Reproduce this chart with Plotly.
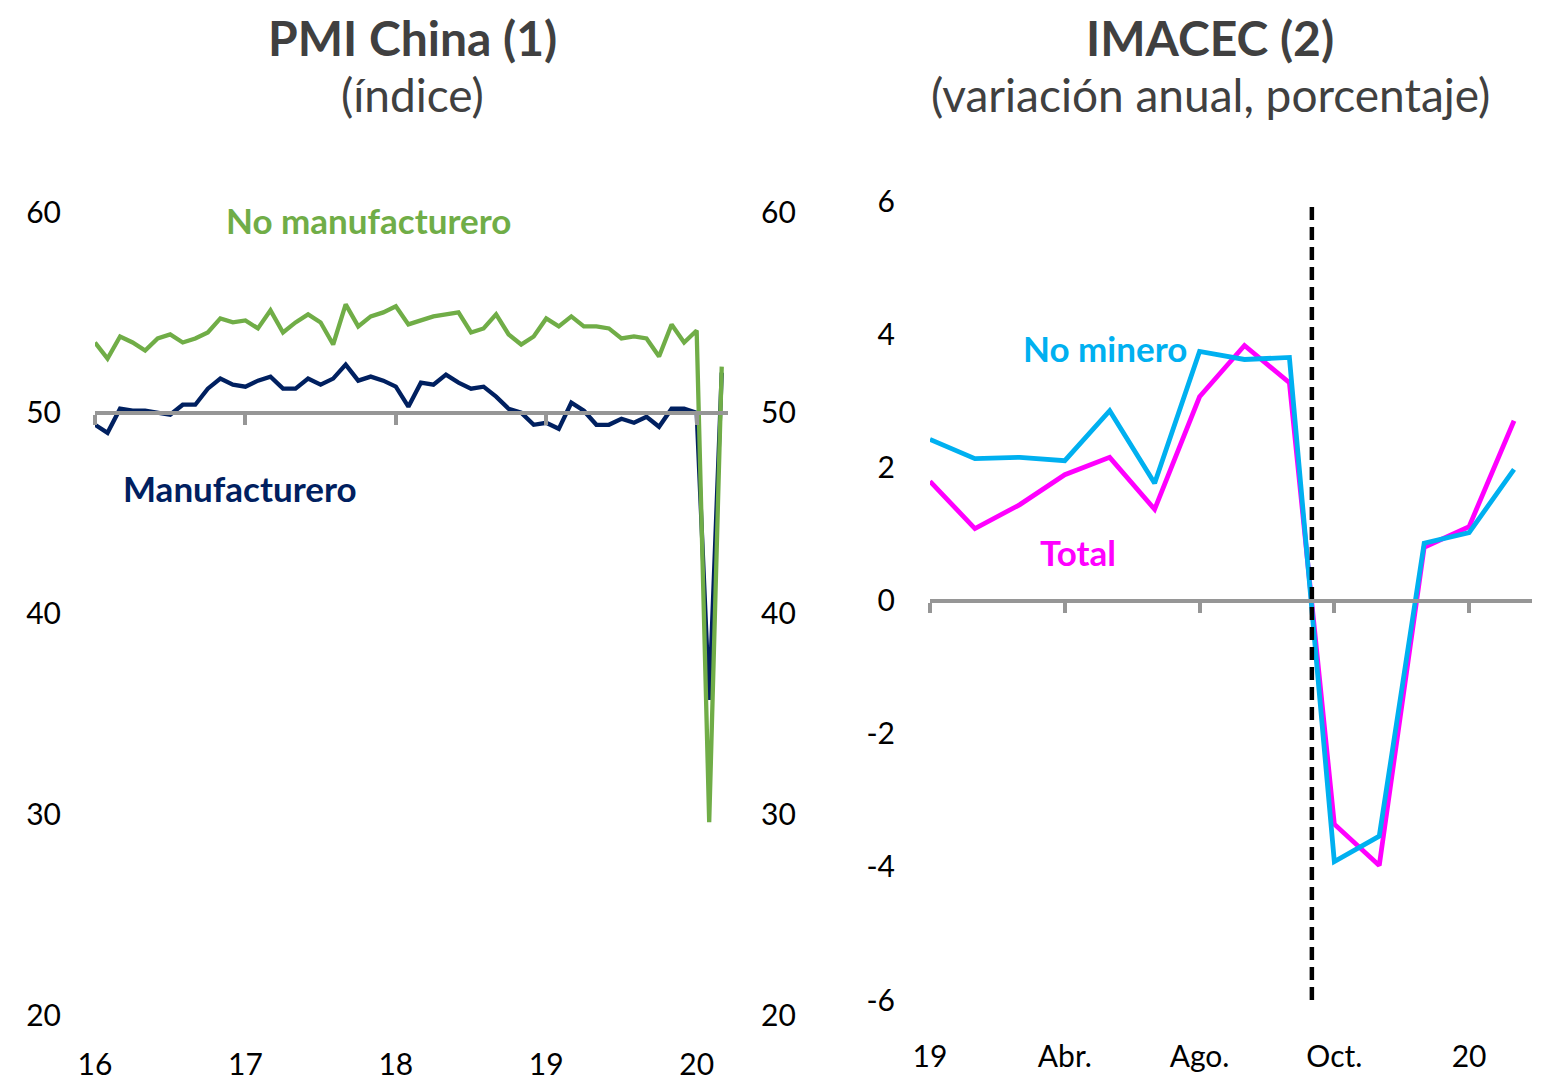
import plotly.graph_objects as go

# ---------------- Data ----------------
# PMI China, monthly Jan-2016 .. Mar-2020 (index)
pmi_months = list(range(51))  # month index from Jan-2016
pmi_manuf = [49.4, 49.0, 50.2, 50.1, 50.1, 50.0, 49.9, 50.4, 50.4, 51.2, 51.7, 51.4,
             51.3, 51.6, 51.8, 51.2, 51.2, 51.7, 51.4, 51.7, 52.4, 51.6, 51.8, 51.6,
             51.3, 50.3, 51.5, 51.4, 51.9, 51.5, 51.2, 51.3, 50.8, 50.2, 50.0, 49.4,
             49.5, 49.2, 50.5, 50.1, 49.4, 49.4, 49.7, 49.5, 49.8, 49.3, 50.2, 50.2,
             50.0, 35.7, 52.0]
pmi_nonmanuf = [53.5, 52.7, 53.8, 53.5, 53.1, 53.7, 53.9, 53.5, 53.7, 54.0, 54.7, 54.5,
                54.6, 54.2, 55.1, 54.0, 54.5, 54.9, 54.5, 53.4, 55.4, 54.3, 54.8, 55.0,
                55.3, 54.4, 54.6, 54.8, 54.9, 55.0, 54.0, 54.2, 54.9, 53.9, 53.4, 53.8,
                54.7, 54.3, 54.8, 54.3, 54.3, 54.2, 53.7, 53.8, 53.7, 52.8, 54.4, 53.5,
                54.1, 29.6, 52.3]
pmi_ref = 50
pmi_tickvals = [0, 12, 24, 36, 48]
pmi_ticktext = ["16", "17", "18", "19", "20"]
pmi_yticks = [20, 30, 40, 50, 60]

# IMACEC, monthly Jan-2019 .. Feb-2020 (annual % change)
ima_months = list(range(14))
ima_total = [1.79, 1.08, 1.44, 1.89, 2.15, 1.37, 3.06, 3.83, 3.27, -3.36, -3.98, 0.80, 1.11, 2.70]
ima_nomin = [2.42, 2.13, 2.15, 2.10, 2.85, 1.76, 3.74, 3.62, 3.65, -3.92, -3.54, 0.86, 1.02, 1.97]
ima_event = 8.5  # mid-October 2019
ima_tickvals = [0, 3, 6, 9, 12]
ima_ticktext = ["19", "Abr.", "Ago.", "Oct.", "20"]
ima_yticks = [-6, -4, -2, 0, 2, 4, 6]
ima_yticktext = ["-6", "-4", "-2", "0", "2", "4", "6"]

# ---------------- Style ----------------
FONT = "Lato"
GRAY = "#969696"
GREEN = "#70AD47"
NAVY = "#002060"
CYAN = "#00B0F0"
MAGENTA = "#FF00FF"
TITLE_C = "#404040"
TICK_SIZE = 30

W, H = 1548, 1081
OFF = 8  # page body margin
def px_x(p): return (p - OFF) / W
def px_y(p): return 1 - (p - OFF) / H

L_DOM_X = [px_x(95), px_x(728)]
L_DOM_Y = [px_y(1015), px_y(212)]
R_DOM_X = [px_x(930), px_x(1532)]
R_DOM_Y = [px_y(1000), px_y(201)]
L_RANGE_Y = [20, 60]
R_RANGE_Y = [-6, 6]
L_RANGE_X = [0, 50.5]
R_RANGE_X = [0, 13.4]

pos50 = L_DOM_Y[0] + (pmi_ref - L_RANGE_Y[0]) / (L_RANGE_Y[1] - L_RANGE_Y[0]) * (L_DOM_Y[1] - L_DOM_Y[0])
pos0 = R_DOM_Y[0] + (0 - R_RANGE_Y[0]) / (R_RANGE_Y[1] - R_RANGE_Y[0]) * (R_DOM_Y[1] - R_DOM_Y[0])

fig = go.Figure()

# invisible carriers so the overlay axes get drawn
hidden = dict(mode="markers", marker=dict(opacity=0), showlegend=False, hoverinfo="skip")
fig.add_trace(go.Scatter(x=pmi_months, y=pmi_manuf, xaxis="x3", yaxis="y", **hidden))
fig.add_trace(go.Scatter(x=pmi_months, y=pmi_manuf, xaxis="x", yaxis="y2", **hidden))
fig.add_trace(go.Scatter(x=ima_months, y=ima_total, xaxis="x4", yaxis="y3", **hidden))

# Left panel
fig.add_trace(go.Scatter(x=pmi_months, y=pmi_manuf, mode="lines",
                         line=dict(color=NAVY, width=4.3), xaxis="x", yaxis="y",
                         showlegend=False, hoverinfo="skip"))
fig.add_trace(go.Scatter(x=pmi_months, y=pmi_nonmanuf, mode="lines",
                         line=dict(color=GREEN, width=4.3), xaxis="x", yaxis="y",
                         showlegend=False, hoverinfo="skip"))

# Right panel
fig.add_trace(go.Scatter(x=ima_months, y=ima_total, mode="lines",
                         line=dict(color=MAGENTA, width=4.8), xaxis="x2", yaxis="y3",
                         showlegend=False, hoverinfo="skip"))
fig.add_trace(go.Scatter(x=ima_months, y=ima_nomin, mode="lines",
                         line=dict(color=CYAN, width=4.8), xaxis="x2", yaxis="y3",
                         showlegend=False, hoverinfo="skip"))
fig.add_trace(go.Scatter(x=[ima_event, ima_event], y=R_RANGE_Y, mode="lines",
                         line=dict(color="black", width=4.5, dash="13px,7px"),
                         xaxis="x2", yaxis="y3", showlegend=False, hoverinfo="skip"))

tickfont = dict(family=FONT, size=TICK_SIZE, color="black")
clear = "rgba(0,0,0,0)"

fig.update_layout(
    width=W, height=H, autosize=False,
    margin=dict(l=0, r=0, t=0, b=0, autoexpand=False),
    paper_bgcolor="white", plot_bgcolor="white",
    font=dict(family=FONT),
    # left panel axes
    xaxis=dict(domain=L_DOM_X, anchor="y", range=L_RANGE_X, tickvals=pmi_tickvals,
               ticktext=pmi_ticktext, showgrid=False, zeroline=False, showline=False,
               ticks="outside", ticklen=23, tickcolor=clear, tickfont=tickfont,
               automargin=False),
    xaxis3=dict(overlaying="x", anchor="free", position=pos50, range=L_RANGE_X,
                tickvals=pmi_tickvals, showticklabels=False, showgrid=False, zeroline=False,
                showline=True, linecolor=GRAY, linewidth=4,
                ticks="outside", ticklen=10, tickwidth=3.5, tickcolor=GRAY, automargin=False),
    yaxis=dict(domain=L_DOM_Y, anchor="x", range=L_RANGE_Y, tickvals=pmi_yticks,
               showgrid=False, zeroline=False, showline=False,
               ticks="outside", ticklen=27, tickcolor=clear, tickfont=tickfont,
               automargin=False),
    yaxis2=dict(overlaying="y", side="right", anchor="x", range=L_RANGE_Y, tickvals=pmi_yticks,
                showgrid=False, zeroline=False, showline=False,
                ticks="outside", ticklen=26, tickcolor=clear, tickfont=tickfont,
                automargin=False),
    # right panel axes
    xaxis2=dict(domain=R_DOM_X, anchor="y3", range=R_RANGE_X, tickvals=ima_tickvals,
                ticktext=ima_ticktext, showgrid=False, zeroline=False, showline=False,
                ticks="outside", ticklen=30, tickcolor=clear, tickfont=tickfont,
                automargin=False),
    xaxis4=dict(overlaying="x2", anchor="free", position=pos0, range=R_RANGE_X,
                tickvals=ima_tickvals, showticklabels=False, showgrid=False, zeroline=False,
                showline=True, linecolor=GRAY, linewidth=4,
                ticks="outside", ticklen=10, tickwidth=3.5, tickcolor=GRAY, automargin=False),
    yaxis3=dict(domain=R_DOM_Y, anchor="x2", range=R_RANGE_Y, tickvals=ima_yticks,
                ticktext=ima_yticktext, showgrid=False, zeroline=False, showline=False,
                ticks="outside", ticklen=28, tickcolor=clear, tickfont=tickfont,
                automargin=False),
)

ann = [
    dict(text="<b>PMI China (1)</b>", x=px_x(412), y=px_y(37), font=dict(size=48, color=TITLE_C)),
    dict(text="(índice)", x=px_x(412), y=px_y(94), font=dict(size=46, color=TITLE_C)),
    dict(text="<b>IMACEC (2)</b>", x=px_x(1210), y=px_y(37), font=dict(size=48, color=TITLE_C)),
    dict(text="(variación anual, porcentaje)", x=px_x(1210), y=px_y(94), font=dict(size=46, color=TITLE_C)),
]
for a in ann:
    fig.add_annotation(xref="paper", yref="paper", showarrow=False, xanchor="center",
                       yanchor="middle", **a)

labels = [
    dict(text="<b>No manufacturero</b>", x=21.8, y=59.6, xref="x", yref="y", color=GREEN),
    dict(text="<b>Manufacturero</b>", x=11.6, y=46.25, xref="x", yref="y", color=NAVY),
    dict(text="<b>No minero</b>", x=3.9, y=3.79, xref="x2", yref="y3", color=CYAN),
    dict(text="<b>Total</b>", x=3.3, y=0.73, xref="x2", yref="y3", color=MAGENTA),
]
for l in labels:
    fig.add_annotation(text=l["text"], x=l["x"], y=l["y"], xref=l["xref"], yref=l["yref"],
                       showarrow=False, xanchor="center", yanchor="middle",
                       font=dict(family=FONT, size=35, color=l["color"]))

fig.write_html("out.html")
